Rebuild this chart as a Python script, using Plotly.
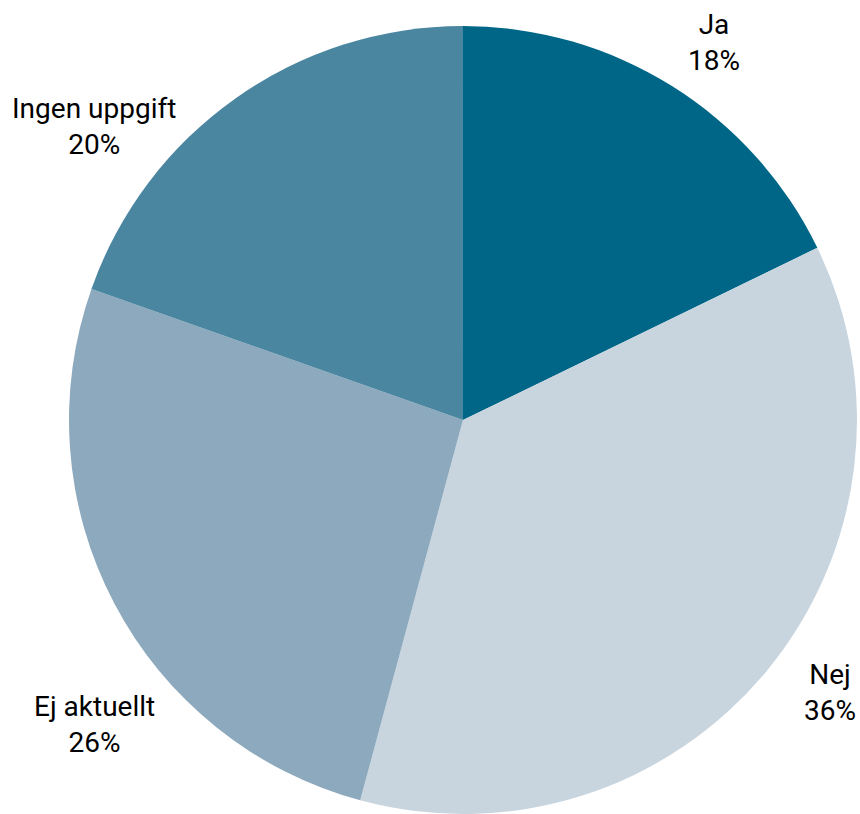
import plotly.graph_objects as go

labels = ["Ja", "Nej", "Ej aktuellt", "Ingen uppgift"]
values = [17.8, 36.4, 26.2, 19.6]
colors = ["#006687", "#c8d5df", "#8ca9bd", "#4b86a1"]

# label anchor positions (paper coordinates)
label_pos = [(714 / 860, 1 - 43 / 814),
             (830 / 860, 1 - 692 / 814),
             (94 / 860, 1 - 724 / 814),
             (94 / 860, 1 - 126 / 814)]

fig = go.Figure(go.Pie(
    labels=labels,
    values=values,
    sort=False,
    direction="clockwise",
    rotation=0,
    marker=dict(colors=colors, line=dict(width=0)),
    textinfo="none",
    hoverinfo="label+percent",
    domain=dict(x=[0.0767, 1.0], y=[0.0, 0.968]),
))

total = sum(values)
for lab, val, (px, py) in zip(labels, values, label_pos):
    fig.add_annotation(
        x=px, y=py, xref="paper", yref="paper",
        text=f"{lab}<br>{round(100 * val / total)}%",
        showarrow=False, xanchor="center", yanchor="middle",
        align="center",
        font=dict(family="Roboto", size=28, color="#000000"),
    )

fig.update_layout(
    width=860, height=814,
    margin=dict(l=0, r=0, t=0, b=0),
    paper_bgcolor="white",
    plot_bgcolor="white",
    showlegend=False,
    font=dict(family="Roboto", size=28, color="#000000"),
)

fig.write_html("out.html")
